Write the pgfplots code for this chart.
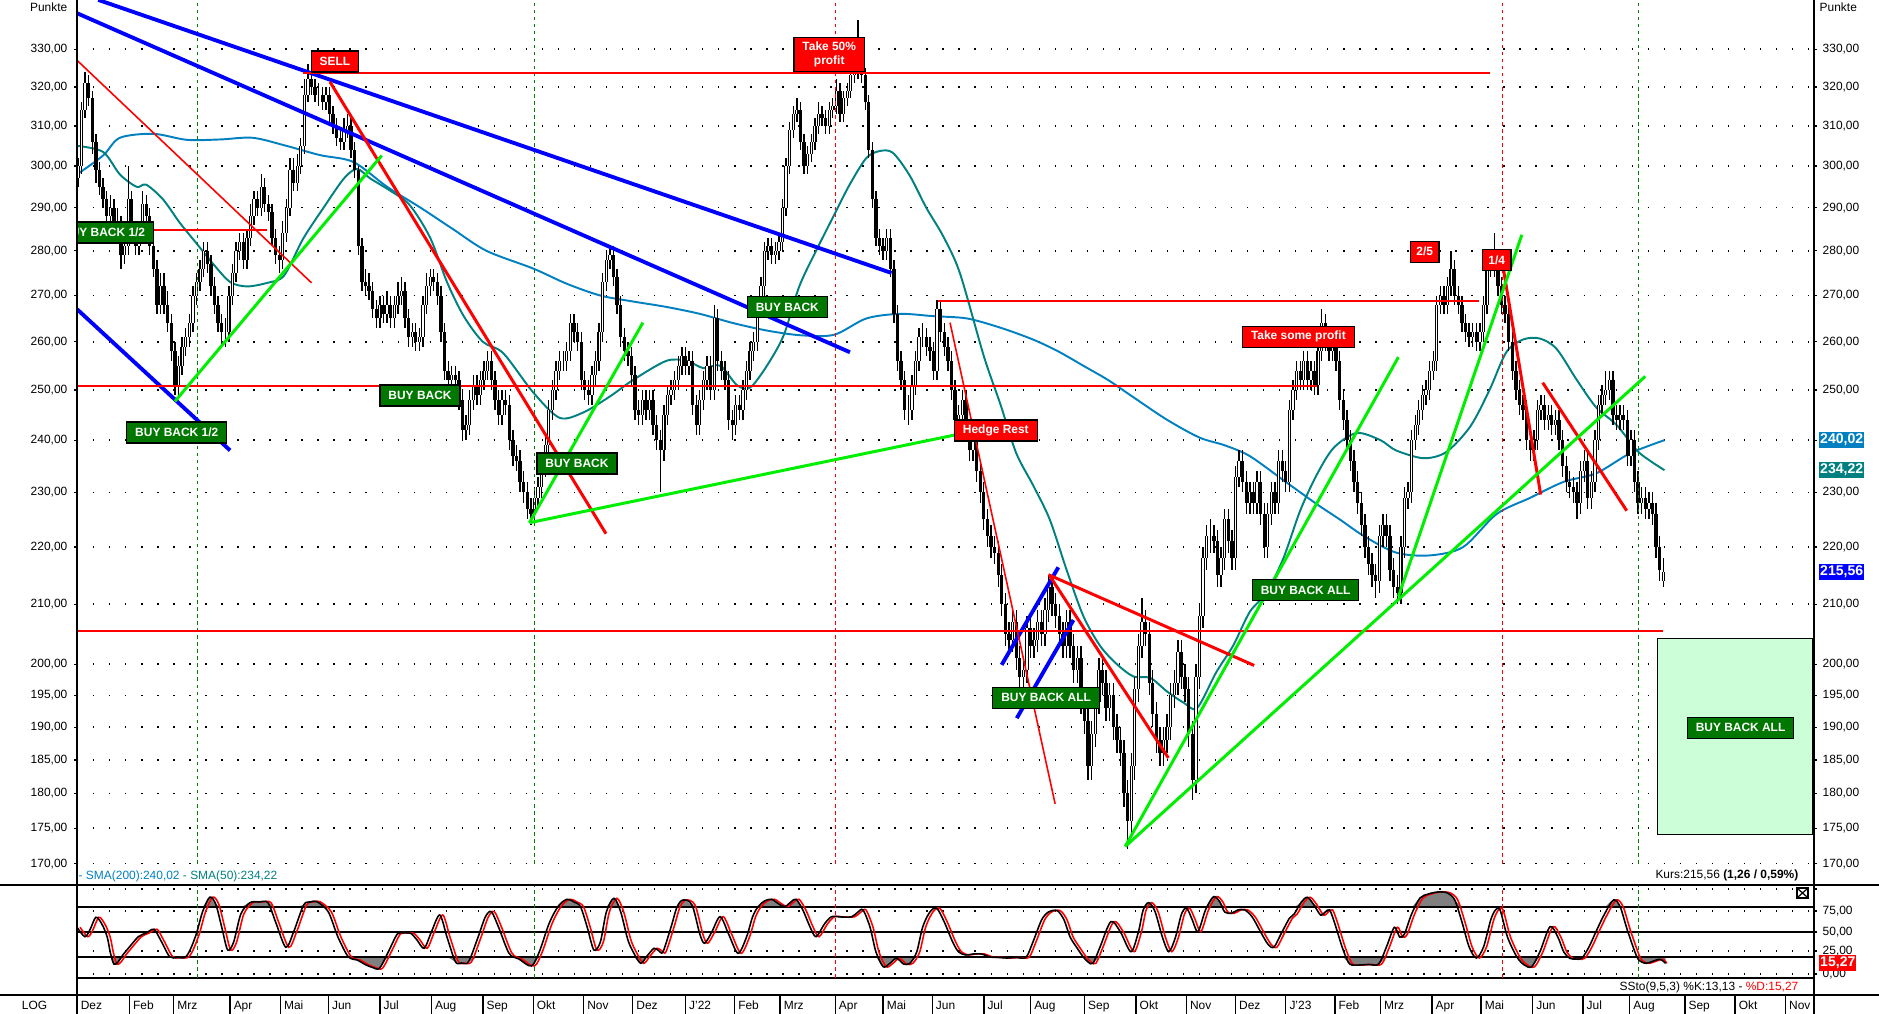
\documentclass[border=0pt]{standalone}
\usepackage{fontspec}
\setmainfont{Liberation Sans}
\usepackage{pgfplots}
\usepackage{pgfplotstable}
\pgfplotsset{compat=1.18}

\definecolor{smab}{RGB}{0,128,192}
\definecolor{smat}{RGB}{0,128,128}
\definecolor{lgreen}{RGB}{0,238,0}
\definecolor{dgreen}{RGB}{0,120,0}
\definecolor{boxg}{RGB}{204,255,216}
\definecolor{dashg}{RGB}{0,128,0}
\definecolor{stgray}{RGB}{128,128,128}

\newcommand\tf{\fontsize{3.4}{4}\selectfont}
\newcommand\vf{\fontsize{4}{4.6}\selectfont\bfseries}

\tikzset{
  lab/.style={draw=black, line width=0.35pt, text=white, font=\tf\bfseries,
    inner xsep=0.85mm, inner ysep=0pt, minimum height=2.1mm},
  rlab/.style={lab, fill=red},
  glab/.style={lab, fill=dgreen},
  vbox/.style={anchor=west, xshift=0.45mm, text=white, font=\vf,
    inner xsep=0.1mm, inner ysep=0pt, minimum height=1.6mm},
}

% daily-ish candles: chart position, open, high, low, close
\pgfplotstableread{
x o h l c
65 297 302 295 300
68 300 316 298 314
71 314 324 312 321
74 321 323 315 317
77 317 319 303 306
80 306 308 296 299
83 299 301 293 295
86 295 297 290 292
89 292 294 286 288
92 288 293 286 290
95 290 292 285 287
98 287 290 284 286
101 286 288 276 279
104 279 284 277 281
107 281 300 279 292
110 292 294 283 285
113 285 287 279 281
116 281 286 279 284
119 284 294 282 291
122 291 293 286 288
125 288 290 279 281
128 281 283 274 276
131 276 278 266 268
134 268 275 266 272
137 272 275 266 268
140 268 271 262 264
143 264 266 256 258
146 258 260 249 251
149 251 257 249 255
152 255 261 253 259
155 259 263 257 261
158 261 266 259 264
161 264 272 262 270
164 270 275 268 273
167 273 278 271 276
170 276 282 274 280
173 280 282 275 277
176 277 279 270 272
179 272 274 266 268
182 268 270 262 264
185 264 266 259 262
188 262 265 259 262
191 262 272 260 270
194 270 277 268 275
197 275 282 273 280
200 280 284 278 282
203 282 284 276 278
206 278 285 276 283
209 283 291 281 288
212 288 294 286 292
215 292 294 288 290
218 290 298 288 295
221 295 297 289 291
224 291 293 287 289
227 289 291 281 283
230 283 285 277 279
233 279 281 275 278
236 278 287 276 284
239 284 292 282 290
242 290 302 288 299
245 299 302 294 296
248 296 303 294 300
251 300 307 298 305
254 305 322 303 318
257 318 326 316 322
260 322 324 318 320
263 320 322 316 318
266 318 321 315 318
269 318 320 314 316
272 316 320 314 318
275 318 320 311 313
278 313 315 308 310
281 310 312 305 307
284 307 309 304 306
287 306 312 304 309
290 309 313 307 310
293 310 312 302 304
296 304 306 297 299
299 299 300 279 281
302 281 283 271 273
305 273 276 270 272
308 272 275 269 271
311 271 273 265 267
314 267 269 263 265
317 265 270 263 268
320 268 270 264 266
323 266 271 264 268
326 268 270 263 265
329 265 270 263 268
332 268 273 266 270
335 270 274 268 271
338 271 273 263 265
341 265 267 259 261
344 261 264 259 262
347 262 264 258 260
350 260 263 258 261
353 261 270 259 268
356 268 275 266 272
359 272 276 270 274
362 274 276 271 273
365 273 275 268 270
368 270 272 260 262
371 262 264 252 254
374 254 256 250 252
377 252 255 250 253
380 253 255 250 252
383 252 254 246 248
386 248 250 240 242
389 242 245 240 243
392 243 250 241 248
395 248 253 246 251
398 251 253 247 249
401 249 254 247 252
404 252 256 250 254
407 254 258 252 256
410 256 258 250 252
413 252 254 246 248
416 248 250 243 245
419 245 250 243 248
422 248 250 245 247
425 247 249 238 240
428 240 242 235 237
431 237 239 234 236
434 236 238 230 232
437 232 234 228 230
440 230 232 225 227
443 227 229 224 226
446 226 231 224 229
449 229 233 227 231
452 231 237 229 235
455 235 241 233 239
458 239 248 237 246
461 246 252 244 250
464 250 256 248 254
467 254 258 252 256
470 256 258 254 256
473 256 260 254 258
476 258 266 256 264
479 264 266 260 262
482 262 264 258 260
485 260 262 250 252
488 252 254 248 250
491 250 252 247 249
494 249 255 247 253
497 253 258 251 256
500 256 264 254 262
503 262 275 260 273
506 273 280 271 278
509 278 281 276 279
512 279 281 272 274
515 274 276 266 268
518 268 270 259 261
521 261 263 256 258
524 258 260 255 257
527 257 259 251 253
530 253 255 244 246
533 246 248 243 245
536 245 250 243 248
539 248 250 244 246
542 246 250 244 248
545 248 250 241 243
548 243 245 238 240
551 240 242 230 238
554 238 247 236 245
557 245 251 243 249
560 249 252 247 250
563 250 254 248 252
566 252 257 250 255
569 255 259 253 257
572 257 259 253 255
575 255 258 253 256
578 256 258 245 247
581 247 249 241 243
584 243 250 241 248
587 248 254 246 252
590 252 257 250 255
593 255 257 248 250
596 250 268 248 265
599 265 267 254 256
602 256 258 252 254
605 254 256 250 252
608 252 254 242 244
611 244 246 240 243
614 243 249 241 247
617 247 249 244 246
620 246 252 244 250
623 250 256 248 254
626 254 260 252 258
629 258 262 256 260
632 260 270 258 268
635 268 274 266 272
638 272 282 270 280
641 280 283 278 281
644 281 283 277 279
647 279 282 277 280
650 280 284 278 282
653 282 292 280 290
656 290 302 288 300
659 300 311 298 309
662 309 315 307 313
665 313 317 311 314
668 314 316 304 306
671 306 308 298 300
674 300 305 298 303
677 303 308 301 306
680 306 312 304 310
683 310 316 308 313
686 313 315 310 312
689 312 314 308 310
692 310 316 308 314
695 314 317 312 315
698 315 322 313 319
701 319 321 311 313
704 313 319 311 317
707 317 321 315 319
710 319 325 317 323
713 323 326 321 324
716 324 338 322 327
719 327 329 321 323
722 323 325 314 316
725 316 318 302 304
728 304 306 290 292
731 292 294 281 283
734 283 285 279 281
737 281 283 278 280
740 280 285 278 283
743 283 285 274 276
746 276 278 264 266
749 266 268 254 256
752 256 258 250 252
755 252 254 244 246
758 246 249 243 246
761 246 253 244 251
764 251 258 249 256
767 256 263 254 261
770 261 264 259 261
773 261 263 257 259
776 259 261 256 258
779 258 260 252 254
782 254 269 252 267
785 267 269 260 262
788 262 264 257 259
791 259 261 254 256
794 256 258 248 250
797 250 252 242 244
800 244 247 242 245
803 245 250 243 248
806 248 250 240 242
809 242 244 236 238
812 238 242 236 240
815 240 242 232 234
818 234 236 228 230
821 230 232 223 225
824 225 227 220 222
827 222 224 218 220
830 220 222 217 219
833 219 221 213 215
836 215 217 208 210
839 210 212 203 205
842 205 207 202 204
845 204 209 202 207
848 207 209 199 201
851 201 203 196 198
854 198 201 196 199
857 199 208 197 206
860 206 208 201 203
863 203 206 201 204
866 204 209 202 207
869 207 209 203 205
872 205 211 203 209
875 209 215 207 213
878 213 215 208 210
881 210 212 206 208
884 208 210 203 205
887 205 207 201 203
890 203 209 201 207
893 207 209 201 203
896 203 205 197 199
899 199 203 197 201
902 201 203 192 194
905 194 196 189 191
908 191 193 182 184
911 184 191 182 189
914 189 196 187 194
917 194 201 192 199
920 199 201 195 197
923 197 199 191 193
926 193 197 191 195
929 195 197 188 190
932 190 192 186 188
935 188 190 184 186
938 186 188 178 180
941 180 182 172 176
944 176 186 174 184
947 184 198 182 196
950 196 205 194 203
953 203 211 201 207
956 207 209 203 205
959 205 207 195 197
962 197 199 190 192
965 192 194 186 188
968 188 190 184 186
971 186 190 184 188
974 188 192 186 190
977 190 197 188 195
980 195 199 193 197
983 197 204 195 202
986 202 204 196 198
989 198 200 194 196
992 196 198 187 189
995 189 191 179 182
998 182 200 180 198
1001 198 210 196 208
1004 208 220 206 218
1007 218 224 216 222
1010 222 225 219 222
1013 222 224 219 221
1016 221 223 213 215
1019 215 220 213 218
1022 218 227 216 225
1025 225 227 219 221
1028 221 223 216 218
1031 218 235 216 233
1034 233 238 231 236
1037 236 238 230 232
1040 232 234 226 228
1043 228 232 226 230
1046 230 232 226 228
1049 228 234 226 232
1052 232 234 224 226
1055 226 228 218 220
1058 220 228 218 226
1061 226 232 224 230
1064 230 232 226 228
1067 228 238 226 236
1070 236 238 232 234
1073 234 236 230 232
1076 232 248 230 246
1079 246 252 244 250
1082 250 256 248 254
1085 254 256 250 252
1088 252 258 250 256
1091 256 258 250 252
1094 252 256 250 254
1097 254 256 249 251
1100 251 260 249 258
1103 258 267 256 264
1106 264 266 258 260
1109 260 262 256 258
1112 258 262 256 260
1115 260 262 254 256
1118 256 258 246 248
1121 248 250 242 244
1124 244 246 238 240
1127 240 242 234 236
1130 236 238 230 232
1133 232 234 226 228
1136 228 230 222 224
1139 224 226 218 220
1142 220 222 215 217
1145 217 219 213 215
1148 215 217 211 214
1151 214 224 212 222
1154 222 226 220 224
1157 224 226 220 222
1160 222 224 214 216
1163 216 218 211 213
1166 213 215 210 212
1169 212 222 210 220
1172 220 231 218 229
1175 229 232 227 230
1178 230 242 228 240
1181 240 245 238 243
1184 243 248 241 246
1187 246 251 244 249
1190 249 252 247 250
1193 250 256 248 254
1196 254 258 252 256
1199 256 270 254 268
1202 268 272 266 270
1205 270 272 266 268
1208 268 274 266 272
1211 272 280 270 276
1214 276 278 268 270
1217 270 272 266 268
1220 268 270 262 264
1223 264 266 260 262
1226 262 264 259 261
1229 261 264 259 262
1232 262 264 258 260
1235 260 264 258 262
1238 262 270 260 268
1241 268 278 266 276
1244 276 280 274 278
1247 278 284 274 276
1250 276 278 270 272
1253 272 274 266 268
1256 268 270 264 266
1259 266 268 258 260
1262 260 262 252 254
1265 254 256 248 250
1268 250 252 245 247
1271 247 249 244 246
1274 246 248 238 240
1277 240 242 236 238
1280 238 242 236 240
1283 240 248 238 246
1286 246 249 244 247
1289 247 249 242 244
1292 244 247 242 245
1295 245 247 241 243
1298 243 246 241 244
1301 244 246 238 240
1304 240 242 233 235
1307 235 237 230 232
1310 232 234 229 231
1313 231 233 228 230
1316 230 232 225 228
1319 228 236 226 234
1322 234 238 232 236
1325 236 238 227 229
1328 229 234 227 232
1331 232 242 230 240
1334 240 249 238 247
1337 247 251 245 249
1340 249 254 247 250
1343 250 254 248 252
1346 252 254 243 245
1349 245 247 242 244
1352 244 247 242 245
1355 245 247 242 244
1358 244 246 235 237
1361 237 242 235 240
1364 240 242 230 232
1367 232 234 226 228
1370 228 231 226 229
1373 229 231 225 227
1376 227 230 225 228
1379 228 230 224 226
1382 226 228 218 220
1385 220 222 214 216
1388 214 218 213 215.56
}\candles

% slow stochastic: %K at x, %D drawn at xd
\pgfplotstableread{
x k xd
64.3 54.7 66.8
70.8 45.3 73.3
75 52 77.5
80 64.7 82.5
85 58 87.5
89.4 45.3 91.9
92 30 94.5
95 18 97.5
98.5 20 101
102.5 27 105
108 35 110.5
115.5 45.3 118
122 49 124.5
128.5 52.7 131
134 42 136.5
141.6 25.3 144.1
148 24.5 150.5
154.6 24.7 157.1
159 33 161.5
164 48.7 166.5
169 70 171.5
175 84.7 177.5
180 78 182.5
185 55 187.5
190 32 192.5
195 40 197.5
201 68 203.5
208.6 79.3 211.1
216 80 218.5
223.6 79.3 226.1
230 60 232.5
238.5 34.7 241
245 50 247.5
253.4 77 255.9
259 80 261.5
264.5 80.3 267
273.9 70.3 276.4
282 45 284.5
290.6 25.3 293.1
298 22 300.5
305.5 17 308
311 14.5 313.5
316.7 13.7 319.2
324 30 326.5
331.6 48 334.1
337 49 339.5
342.8 48.7 345.3
348 42 350.5
354 33.7 356.5
360 50 362.5
367 67 369.5
373 45 375.5
380 20.3 382.5
385 19 387.5
391 20.3 393.5
399 45 401.5
405 65 407.5
410 70.3 412.5
416 55 418.5
424.8 28.7 427.3
433 23 435.5
443.4 16 445.9
450 30 452.5
458.3 58.7 460.8
466 76 468.5
473.2 82.7 475.7
479 80 481.5
484.4 75.3 486.9
490 55 492.5
495.6 32 498.1
501 40 503.5
506 70 508.5
512.3 83.7 514.8
518 70 520.5
524 42 526.5
529 28.7 531.5
534.7 18.7 537.2
540 26 542.5
545.8 33.7 548.3
550 31 552.5
553.3 30.3 555.8
560 55 562.5
565 75 567.5
570 82 572.5
577.5 77 580
584 48 586.5
588 38.7 590.5
594 50 596.5
601 65.3 603.5
608 48 610.5
615.9 28.7 618.4
623 45 625.5
628 65 630.5
632.6 75.3 635.1
638 81 640.5
643.8 82.7 646.3
650 78 652.5
655 75.3 657.5
660 80 662.5
664.3 82.7 666.8
670 72 672.5
676 55 678.5
681 45.3 683.5
688 58 690.5
694 65.3 696.5
702 65 704.5
710.9 65.3 713.4
716 70 718.5
720.2 72 722.7
726 55 728.5
731 30 733.5
737 15.3 739.5
742 18 744.5
748.1 23.7 750.6
754 18 756.5
759.3 18.7 761.8
765 30 767.5
770 55 772.5
776 70 778.5
781.7 73.7 784.2
788 60 790.5
795 40 797.5
800 30 802.5
806 27 808.5
812 28 814.5
819 28 821.5
826 25 828.5
832 24.7 834.5
840 24 842.5
848 24.5 850.5
856.2 24.7 858.7
862 40 864.5
869.2 62 871.7
875 70 877.5
882.3 71.3 884.8
888 62 890.5
893 45 895.5
899 33.7 901.5
904 25 906.5
908 20 910.5
912.1 18.7 914.6
918 35 920.5
927 60.3 929.5
935 50 937.5
943.8 30.3 946.3
950 50 952.5
954 72 956.5
958.7 79.3 961.2
964 70 966.5
970 45 972.5
975.4 30.3 977.9
981 45 983.5
986 68 988.5
990.3 73.7 992.8
995 62 997.5
999.7 50.3 1002.2
1006 72 1008.5
1012.7 85.3 1015.2
1018 80 1020.5
1022 70 1024.5
1027.6 68.7 1030.1
1033 72 1035.5
1038.8 72 1041.3
1045 65 1047.5
1052 50 1054.5
1058 38 1060.5
1063 34.7 1065.5
1069 48 1071.5
1076 63.7 1078.5
1080 68 1082.5
1086 80 1088.5
1090.9 84.7 1093.4
1096 78 1098.5
1102 67 1104.5
1106 70 1108.5
1109.6 72 1112.1
1114 58 1116.5
1120 35 1122.5
1125 20 1127.5
1128.2 17 1130.7
1135 17 1137.5
1142 17.5 1144.5
1150.5 18 1153
1157 35 1159.5
1163.6 54.7 1166.1
1168 45 1170.5
1172 48 1174.5
1178 68 1180.5
1185 84 1187.5
1192 88 1194.5
1200 90 1202.5
1208 89 1210.5
1214 82 1216.5
1220 60 1222.5
1226 35 1228.5
1232 24 1234.5
1238 35 1240.5
1244 62 1246.5
1248 72 1250.5
1251.8 72 1254.3
1258 45 1260.5
1265.7 25.3 1268.2
1272 17 1274.5
1278.2 15.3 1280.7
1285 30 1287.5
1293.5 55.3 1296
1300 45 1302.5
1305 30 1307.5
1310 23.7 1312.5
1315 23 1317.5
1320 23.7 1322.5
1326 35 1328.5
1332.5 52 1335
1339 68 1341.5
1346.4 82 1348.9
1352 75.3 1354.5
1358 52 1360.5
1365.9 25.3 1368.4
1370 20 1372.5
1374.2 18.7 1376.7
1380 21 1382.5
1385.3 22.7 1387.8
1390 18.7 1391
}\stoch

\begin{document}
\begin{tikzpicture}
\path[use as bounding box] (0,0) rectangle (187.9mm,101.4mm);

% ---------------- price panel ----------------
\begin{axis}[
  at={(7.7mm,12.9mm)}, anchor=south west,
  width=173.7mm, height=88.5mm, scale only axis,
  xmin=64.26, xmax=1513.8,
  ymode=log, ymin=167.1, ymax=343.5,
  axis line style={draw=none},
  xtick=\empty,
  ytick={170,175,180,185,190,195,200,210,220,230,240,250,260,270,280,290,300,310,320,330},
  yticklabels={{170,00},{175,00},{180,00},{185,00},{190,00},{195,00},{200,00},{210,00},{220,00},{230,00},{240,00},{250,00},{260,00},{270,00},{280,00},{290,00},{300,00},{310,00},{320,00},{330,00}},
  ytick pos=left, tick align=outside, major tick length=0.3mm,
  tick style={black, line width=0.35pt}, minor tick style={draw=none},
  yticklabel style={font=\tf, inner sep=0pt, xshift=-0.6mm},
  ymajorgrids, major grid style={black, line width=0.4pt, dash pattern=on 0.4pt off 4.16pt},
]
% moving averages
\addplot[smab, line width=0.55pt, smooth] coordinates {
(64.3,298) (86,302.6) (100,307) (128,308) (156,306.5) (184,306.6) (211,307) (239,305)
(267,302.7) (295,301) (323,295) (351,290) (378,285) (406,280) (445,276) (473,272.6)
(501,270) (528,268.7) (556,267.5) (584,266) (612,264) (640,262.4) (668,261.4) (696,261.5)
(723,265) (751,266) (779,265.5) (807,265) (835,263) (862,260.5) (883,258) (904,255)
(925,252) (946,248.5) (974,244) (1001,240.5) (1022,239) (1043,236.9) (1071,232.3)
(1099,227.8) (1118,225) (1138,222) (1165,219) (1193,218.5) (1221,220) (1249,226)
(1277,229) (1305,232) (1332,233.6) (1360,237.4) (1389,240)};
\addplot[smat, line width=0.55pt, smooth] coordinates {
(64.3,305) (86,303.5) (100,298) (114,295) (122,295.5) (136,292) (150,286.5) (164,281.7)
(178,277) (192,273) (206,272) (223,272.8) (237,274.4) (253,282.8) (270,290) (287,297)
(298,299.3) (309,297) (326,294) (342,290.6) (359,283) (373,273) (387,265.5) (403,260)
(420,257.6) (445,249.5) (467,244.4) (487,245.5) (509,248.7) (528,252) (556,256) (573,256)
(587,254.5) (601,255) (615,251) (626,250.5) (640,255) (654,261.4) (667,272) (681,280)
(695,287.7) (709,295.5) (723,302) (734,303.7) (745,303.3) (759,297.8) (773,290) (787,283.4)
(801,275) (821,257) (835,247) (848,237.5) (862,231.4) (876,225) (890,216) (904,208)
(918,203) (932,200) (946,198) (960,197.8) (974,195.6) (988,193.8) (999,193) (1015,198.7)
(1029,203) (1043,208.7) (1057,212) (1071,218) (1085,226.6) (1099,233.4) (1113,238.5)
(1132,241.4) (1152,240) (1165,238) (1188,236.5) (1207,237.7) (1227,242.7) (1243,250)
(1257,257.8) (1271,260.5) (1285,260.7) (1299,258.5) (1316,252) (1332,246.5) (1349,243)
(1366,238) (1377,236) (1389,234.2)};

% candles: wicks, bodies, hollow inside of rising candles
\addplot[draw=none, mark=none, forget plot,
  error bars/.cd, y dir=both, y explicit, error mark=none,
  error bar style={draw=black, solid, line width=0.38pt}]
  table[x=x, y=c, y error plus expr={\thisrow{h}-\thisrow{c}},
        y error minus expr={\thisrow{c}-\thisrow{l}}] {\candles};
\addplot[draw=none, mark=none, forget plot,
  error bars/.cd, y dir=both, y explicit, error mark=none,
  error bar style={draw=black, solid, line width=0.95pt}]
  table[x=x, y=c, y error plus expr={max(\thisrow{o},\thisrow{c})-\thisrow{c}},
        y error minus expr={\thisrow{c}-min(\thisrow{o},\thisrow{c})}] {\candles};
\addplot[draw=none, mark=none, forget plot,
  error bars/.cd, y dir=both, y explicit, error mark=none,
  error bar style={draw=white, solid, line width=0.35pt}]
  table[x=x, y=o, y error plus expr={max(\thisrow{c}-\thisrow{o},0)},
        y error minus expr={0}] {\candles};

% vertical markers
\addplot[dashg, line width=0.3pt, dash pattern=on 1pt off 1pt] coordinates {(165,170) (165,343.5)};
\addplot[dashg, line width=0.3pt, dash pattern=on 1pt off 1pt] coordinates {(446,170) (446,343.5)};
\addplot[dashg, line width=0.3pt, dash pattern=on 1pt off 1pt] coordinates {(1367,170) (1367,343.5)};
\addplot[red, line width=0.3pt, dash pattern=on 1pt off 1pt] coordinates {(697,170) (697,343.5)};
\addplot[red, line width=0.3pt, dash pattern=on 1pt off 1pt] coordinates {(1254,170) (1254,343.5)};

% blue channels
\addplot[blue, line width=1.1pt] coordinates {(82,343.5) (744,275)};
\addplot[blue, line width=1.1pt] coordinates {(64.3,339.8) (709.3,257.8)};
\addplot[blue, line width=1.1pt] coordinates {(64.3,267) (192,238)};
\addplot[blue, line width=1.1pt] coordinates {(835.9,199.9) (883.2,216.4)};
\addplot[blue, line width=1.1pt] coordinates {(848.5,191.4) (895.8,207.3)};

% red levels and trend lines
\addplot[red, line width=0.45pt] coordinates {(64.3,327) (260,272.8)};
\addplot[red, line width=0.55pt] coordinates {(64.3,284.7) (222.5,284.7)};
\addplot[red, line width=0.55pt] coordinates {(253,323.6) (1243,323.6)};
\addplot[red, line width=0.85pt] coordinates {(275.4,321.3) (505.7,222.4)};
\addplot[red, line width=0.55pt] coordinates {(64.3,250.8) (1099,250.8)};
\addplot[red, line width=0.55pt] coordinates {(783,268.7) (1234,268.7)};
\addplot[red, line width=0.55pt] coordinates {(64.3,205.4) (1387.5,205.4)};
\addplot[red, line width=0.45pt] coordinates {(792.8,264.1) (880.5,178.5)};
\addplot[red, line width=0.85pt] coordinates {(874.9,215.1) (1046.6,199.8)};
\addplot[red, line width=0.85pt] coordinates {(876.3,214.8) (975,185.3)};
\addplot[red, line width=0.85pt] coordinates {(1252.3,279.7) (1285.7,229.6)};
\addplot[red, line width=0.85pt] coordinates {(1287.4,251.5) (1357.5,226.6)};

% green support lines
\addplot[lgreen, line width=0.85pt] coordinates {(146,247.7) (318.5,302.6)};
\addplot[lgreen, line width=0.85pt] coordinates {(441.8,224.4) (536.5,264.1)};
\addplot[lgreen, line width=0.85pt] coordinates {(441.8,224.4) (850,243.6)};
\addplot[lgreen, line width=0.85pt] coordinates {(939,172.4) (1167,256.8)};
\addplot[lgreen, line width=0.85pt] coordinates {(939,172.4) (1373,252.8)};
\addplot[lgreen, line width=0.85pt] coordinates {(1167,211.3) (1270,283.7)};

% target zone
\addplot[fill=boxg, draw=black, line width=0.4pt] coordinates {
(1383,174.1) (1512.4,174.1) (1512.4,204.2) (1383,204.2) (1383,174.1)};

% trade labels
\node[glab] at (axis cs:86.5,284.2) {BUY BACK 1/2};
\node[glab] at (axis cs:147.5,241.5) {BUY BACK 1/2};
\node[glab] at (axis cs:350.5,248.9) {BUY BACK};
\node[glab] at (axis cs:481.5,235.5) {BUY BACK};
\node[glab] at (axis cs:657,267.5) {BUY BACK};
\node[glab] at (axis cs:873,194.6) {BUY BACK ALL};
\node[glab] at (axis cs:1089.5,212.4) {BUY BACK ALL};
\node[glab] at (axis cs:1452.5,189.9) {BUY BACK ALL};
\node[rlab] at (axis cs:279.5,326.7) {SELL};
\node[rlab, align=center, inner ysep=0.4mm, font=\fontsize{3.4}{4.25}\selectfont\bfseries]
  at (axis cs:692,328.6) {Take 50\%\\profit};
\node[rlab] at (axis cs:831,241.9) {Hedge Rest};
\node[rlab] at (axis cs:1083.5,261.1) {Take some profit};
\node[rlab, inner xsep=0.6mm] at (axis cs:1189,279.8) {2/5};
\node[rlab, inner xsep=0.6mm] at (axis cs:1249,277.9) {1/4};
\end{axis}

% right scale and last values
\begin{axis}[
  at={(7.7mm,12.9mm)}, anchor=south west,
  width=173.7mm, height=88.5mm, scale only axis,
  xmin=64.26, xmax=1513.8,
  ymode=log, ymin=167.1, ymax=343.5,
  axis line style={draw=none}, xtick=\empty,
  ytick={170,175,180,185,190,195,200,210,220,230,240,250,260,270,280,290,300,310,320,330},
  yticklabels={{170,00},{175,00},{180,00},{185,00},{190,00},{195,00},{200,00},{210,00},{220,00},{230,00},{240,00},{250,00},{260,00},{270,00},{280,00},{290,00},{300,00},{310,00},{320,00},{330,00}},
  ytick pos=right, yticklabel pos=right, tick align=outside, major tick length=0.3mm,
  tick style={black, line width=0.35pt}, minor tick style={draw=none},
  yticklabel style={font=\tf, inner sep=0pt, xshift=0.5mm},
  clip=false,
]
\addplot[draw=none] coordinates {(100,200)};
\node[vbox, fill=smab] at (axis cs:1513.8,240.02) {240,02};
\node[vbox, fill=smat] at (axis cs:1513.8,234.22) {234,22};
\node[vbox, fill=blue] at (axis cs:1513.8,215.56) {215,56};
\end{axis}

% ---------------- stochastic panel ----------------
% grey zone above 75 (axis shifted so that 0 sits at 75)
\begin{axis}[
  at={(7.7mm,1.9mm)}, anchor=south west,
  width=173.7mm, height=11mm, scale only axis,
  xmin=64.26, xmax=1513.8, ymin=-88, ymax=22, hide axis,
]
\addplot[fill=stgray, draw=none, smooth] table[x=x, y expr={max(\thisrow{k}-75,0)}] {\stoch} \closedcycle;
\end{axis}
% grey zone below 25 (0 sits at 25)
\begin{axis}[
  at={(7.7mm,1.9mm)}, anchor=south west,
  width=173.7mm, height=11mm, scale only axis,
  xmin=64.26, xmax=1513.8, ymin=-38, ymax=72, hide axis,
]
\addplot[fill=stgray, draw=none, smooth] table[x=x, y expr={min(\thisrow{k}-25,0)}] {\stoch} \closedcycle;
\end{axis}

\begin{axis}[
  at={(7.7mm,1.9mm)}, anchor=south west,
  width=173.7mm, height=11mm, scale only axis,
  xmin=64.26, xmax=1513.8, ymin=-13, ymax=97,
  axis line style={draw=none}, xtick=\empty,
  ytick={8,31,50,71,93}, yticklabels={{0,00},{25,00},{50,00},{75,00},{}},
  ytick pos=right, yticklabel pos=right, tick align=outside, major tick length=0.3mm,
  tick style={black, line width=0.35pt},
  yticklabel style={font=\tf, inner sep=0pt, xshift=0.5mm},
  ymajorgrids, major grid style={black, line width=0.4pt, dash pattern=on 0.4pt off 4.16pt},
  clip=false,
]
\addplot[black, line width=0.5pt] coordinates {(64.26,75) (1513.8,75)};
\addplot[black, line width=0.5pt] coordinates {(64.26,50) (1513.8,50)};
\addplot[black, line width=0.5pt] coordinates {(64.26,25) (1513.8,25)};
\addplot[black, line width=0.5pt] coordinates {(64.26,4) (1513.8,4)};
\addplot[dashg, line width=0.3pt, dash pattern=on 1pt off 1pt] coordinates {(165,4) (165,97)};
\addplot[dashg, line width=0.3pt, dash pattern=on 1pt off 1pt] coordinates {(446,4) (446,97)};
\addplot[dashg, line width=0.3pt, dash pattern=on 1pt off 1pt] coordinates {(1367,4) (1367,97)};
\addplot[red, line width=0.3pt, dash pattern=on 1pt off 1pt] coordinates {(697,4) (697,97)};
\addplot[red, line width=0.3pt, dash pattern=on 1pt off 1pt] coordinates {(1254,4) (1254,97)};
\addplot[red, line width=0.45pt, smooth] table[x=xd, y=k] {\stoch};
\addplot[black, line width=0.45pt, smooth] table[x=x, y=k] {\stoch};
\node[vbox, fill=red] at (axis cs:1513.8,19) {15,27};
\end{axis}

% ---------------- month strip ----------------
\begin{axis}[
  at={(7.7mm,0mm)}, anchor=south west,
  width=173.7mm, height=1.9mm, scale only axis,
  xmin=64.26, xmax=1513.8, ymin=0, ymax=1,
  axis line style={draw=none}, ytick=\empty,
  xtick={64.3,108,145,192,234,274,317,360,403,445,487,528,572,613,651,697,737,778,821,860,905,948,990,1031,1073,1114,1152,1195,1236,1279,1321,1360,1406,1448,1490},
  xticklabels={Dez,Feb,Mrz,Apr,Mai,Jun,Jul,Aug,Sep,Okt,Nov,Dez,J'22,Feb,Mrz,Apr,Mai,Jun,Jul,Aug,Sep,Okt,Nov,Dez,J'23,Feb,Mrz,Apr,Mai,Jun,Jul,Aug,Sep,Okt,Nov},
  major tick length=0pt,
  xmajorgrids, major grid style={black, line width=0.4pt},
  xticklabel style={font=\tf, anchor=base west, inner sep=0pt, xshift=0.3mm, yshift=0.45mm},
]
\addplot[draw=none] coordinates {(100,0.5)};
\end{axis}

% frame lines and panel texts
\draw[line width=0.5pt] (7.7mm,0) -- (7.7mm,101.4mm);
\draw[line width=0.5pt] (181.4mm,0) -- (181.4mm,101.4mm);
\draw[line width=0.5pt] (0,12.9mm) -- (187.9mm,12.9mm);
\draw[line width=0.5pt] (0,1.9mm) -- (187.9mm,1.9mm);
\node[font=\tf, anchor=north east, inner sep=0pt] at (6.8mm,101.2mm) {Punkte};
\node[font=\tf, anchor=north west, inner sep=0pt] at (181.9mm,101.2mm) {Punkte};
\node[font=\tf, anchor=base east, inner sep=0pt] at (179.9mm,13.55mm) {Kurs:215,56 \textbf{(1,26 / 0,59\%)}};
\node[font=\tf, anchor=base west, inner sep=0pt] at (7.8mm,13.45mm)
  {\textcolor{smab}{- SMA(200):240,02} \textcolor{smat}{- SMA(50):234,22}};
\node[font=\tf, anchor=base east, inner sep=0pt] at (179.9mm,2.35mm)
  {SSto(9,5,3) \%K:13,13 - \textcolor{red}{\%D:15,27}};
\node[font=\tf, anchor=base, inner sep=0pt] at (3.45mm,0.45mm) {LOG};
\draw[line width=0.35pt, fill=white] (179.7mm,11.6mm) rectangle (180.8mm,12.6mm);
\draw[line width=0.35pt] (179.8mm,11.7mm) -- (180.7mm,12.5mm) (179.8mm,12.5mm) -- (180.7mm,11.7mm);
\end{tikzpicture}
\end{document}
